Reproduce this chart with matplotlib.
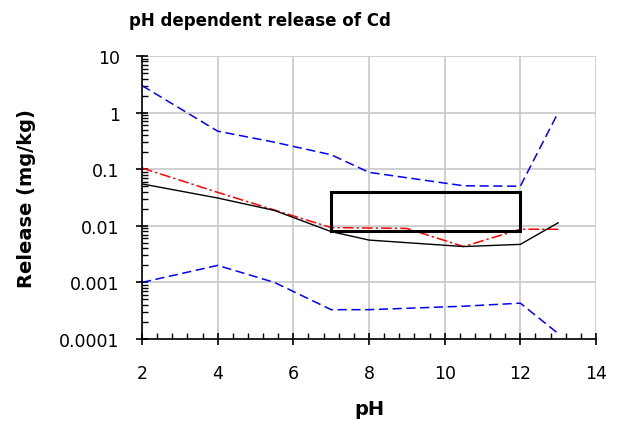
import numpy as np
import matplotlib
matplotlib.use("Agg")
import matplotlib.pyplot as plt
from matplotlib.ticker import LogLocator, FuncFormatter, MultipleLocator
from matplotlib.patches import Rectangle

# pH values (common for most series)
ph = [2, 4, 5.5, 7, 8, 10.5, 12, 13]

# upper / lower envelope (blue dashed)
upper = [3.0, 0.47, 0.30, 0.18, 0.088, 0.051, 0.05, 1.0]
lower = [0.001, 0.002, 0.001, 0.00033, 0.00033, 0.00038, 0.00043, 0.000125]

# measured (black)
measured = [0.055, 0.031, 0.0187, 0.0079, 0.0056, 0.0043, 0.0047, 0.0113]

# model (red dash-dot)
ph_model = [2, 4, 5.5, 7, 9, 10.5, 12, 13]
model = [0.105, 0.039, 0.019, 0.0093, 0.009, 0.0043, 0.0087, 0.0087]

# box: pH range and release range
box_ph = [7, 12]
box_rel = [0.008, 0.04]

fig = plt.figure(figsize=(6.19, 4.27), dpi=100)
ax = fig.add_axes([0.2294, 0.2037, 0.9628 - 0.2294, 0.8665 - 0.2037])

ax.plot(ph, upper, color="#0000ff", lw=1.1, dashes=(6, 3))
ax.plot(ph, lower, color="#0000ff", lw=1.1, dashes=(6, 3))
ax.plot(ph_model, model, color="#ff0000", lw=1.1, dashes=(7, 2, 1.5, 2))
ax.plot(ph, measured, color="black", lw=1.0)

ax.add_patch(Rectangle((box_ph[0], box_rel[0]), box_ph[1] - box_ph[0],
                       box_rel[1] - box_rel[0], fill=False, ec="black", lw=2.2, zorder=5))

ax.set_yscale("log")
ax.set_xlim(2, 14)
ax.set_ylim(0.0001, 10)
ax.xaxis.set_major_locator(MultipleLocator(2))
ax.xaxis.set_minor_locator(MultipleLocator(0.4))
ax.yaxis.set_major_locator(LogLocator(base=10, numticks=10))
ax.yaxis.set_minor_locator(LogLocator(base=10, subs=np.arange(2, 10), numticks=10))
ax.yaxis.set_major_formatter(FuncFormatter(lambda v, p: "%g" % v))
ax.yaxis.set_minor_formatter(FuncFormatter(lambda v, p: ""))

ax.grid(True, which="major", color="#c8c8c8", lw=1.2)
ax.set_axisbelow(True)
for s in ["top", "right"]:
    ax.spines[s].set_visible(False)
for s in ["left", "bottom"]:
    ax.spines[s].set_linewidth(1.2)

ax.tick_params(which="major", direction="inout", length=8, width=1.2, labelsize=12.5)
ax.tick_params(which="minor", direction="in", length=4, width=1.0)
ax.tick_params(axis="x", which="major", pad=14)
ax.tick_params(axis="y", which="major", pad=12)

ax.set_title("pH dependent release of Cd", fontsize=12, fontweight="bold", pad=22, x=0.26)
ax.set_xlabel("pH", fontsize=14, fontweight="bold", labelpad=12)
ax.set_ylabel("Release (mg/kg)", fontsize=14, fontweight="bold", labelpad=17)

fig.savefig("out.png", dpi=100)
